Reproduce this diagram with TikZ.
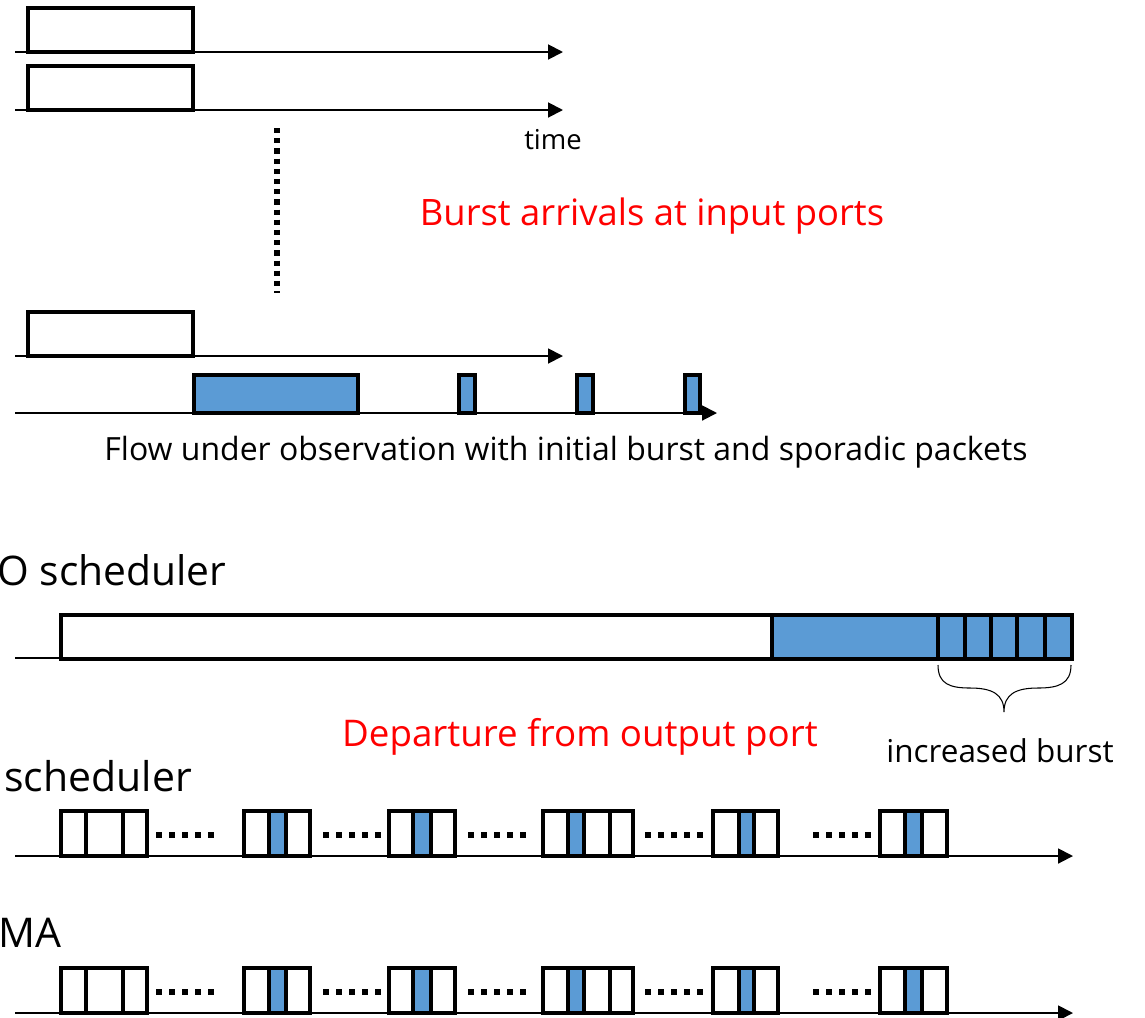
\documentclass[tikz,border=0pt]{standalone}
\usepackage{fontspec}
\setmainfont{Open Sans}
\usetikzlibrary{arrows.meta}
\definecolor{PBlue}{HTML}{5B9BD5}
\definecolor{PRed}{HTML}{FF0000}
\tikzset{
  pkt/.style={draw=black, line width=2.1pt, fill=white},
  bpkt/.style={pkt, fill=PBlue},
  axis/.style={draw=black, line width=1.1pt, -{Triangle[length=8.5pt,width=8.5pt]}},
}
\begin{document}
\begin{tikzpicture}[x=0.2mm, y=-0.2mm, every node/.style={inner sep=0pt}]
  \useasboundingbox (0,0) rectangle (1145,1017);

  % input ports with bursts
  \foreach \y in {52,110,356} {
    \draw[axis] (15,\y) -- (563,\y);
    \draw[pkt] (28,\y-44) rectangle (193,\y);
  }
  \draw[line width=3.2pt, dash pattern=on 3pt off 2.8pt] (277,128) -- (277,293);

  % flow under observation
  \draw[axis] (15,413) -- (717,413);
  \draw[bpkt] (194,375) rectangle (358,413);
  \foreach \a/\b in {459/475, 577/593, 685/700}
    \draw[bpkt] (\a,375) rectangle (\b,413);

  \node[font=\fontsize{15.6}{18}\selectfont] (time) at (553,140) {time};
  \node[font=\fontsize{20.7}{24}\selectfont, text=PRed] (arrivals) at (652,216) {Burst arrivals at input ports};
  \node[font=\fontsize{18.2}{21}\selectfont] (flow) at (566,452) {Flow under observation with initial burst and sporadic packets};

  % FIFO departure
  \node[font=\fontsize{23.2}{26}\selectfont, anchor=base west] (fifo) at (-3,585) {O scheduler};
  \draw[line width=0.7pt] (15,658) -- (61,658);
  \draw[pkt] (61,615) rectangle (772,659);
  \draw[bpkt] (772,615) rectangle (938,659);
  \foreach \a/\b in {938/965, 965/991, 991/1017, 1017/1045, 1045/1072}
    \draw[bpkt] (\a,615) rectangle (\b,659);
  \draw[line width=0.6pt] (938,665) .. controls (938,684) and (950,688) .. (970,688)
    .. controls (992,688) and (1004,694) .. (1004,712)
    .. controls (1004,694) and (1016,688) .. (1038,688)
    .. controls (1058,688) and (1071,684) .. (1071,665);
  \node[font=\fontsize{17.9}{21}\selectfont, anchor=base] (burst) at (1000,762) {increased burst};
  \node[font=\fontsize{20.9}{24}\selectfont, text=PRed] (departure) at (580,737) {Departure from output port};

  % paced departures
  \node[font=\fontsize{23.3}{26}\selectfont, anchor=base west] (sched) at (4,791) {scheduler};
  \node[font=\fontsize{23.3}{26}\selectfont, anchor=base west] (ma) at (-2,947) {MA};
  \foreach \dy in {0,157} {
    \draw[axis] (15,856+\dy) -- (1073,856+\dy);
    \foreach \a/\b/\c in {61/86/white, 86/123/white, 123/147/white,
                          244/269/white, 269/286/PBlue, 286/310/white,
                          389/413/white, 413/431/PBlue, 431/455/white,
                          543/568/white, 568/584/PBlue, 584/610/white, 610/633/white,
                          713/739/white, 739/754/PBlue, 754/778/white,
                          880/905/white, 905/922/PBlue, 922/947/white}
      \draw[pkt, fill=\c] (\a,811+\dy) rectangle (\b,856+\dy);
    \foreach \s in {156,323,468,645,813}
      \foreach \k in {0,...,4}
        \fill (\s+13*\k,832+\dy) rectangle ++(6,6);
  }
\end{tikzpicture}
\end{document}
